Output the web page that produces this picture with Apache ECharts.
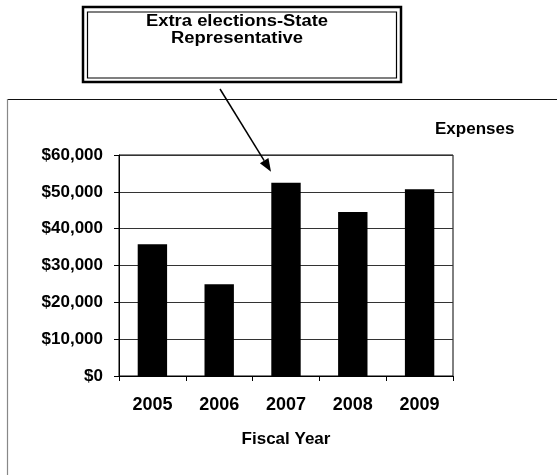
<!DOCTYPE html>
<html>
<head>
<meta charset="utf-8">
<style>
  html, body { margin: 0; padding: 0; background: #fff; }
  #chart { width: 557px; height: 475px; }
</style>
<script src="https://cdn.jsdelivr.net/npm/echarts@6/dist/echarts.min.js"></script>
</head>
<body>
<div id="chart"></div>
<script>
// Fiscal-year expenses
const years = ['2005', '2006', '2007', '2008', '2009'];
const expenses = [35800, 24900, 52500, 44500, 50700];
const yMin = 0, yMax = 60000, yStep = 10000;
const calloutLines = ['Extra elections-State', 'Representative'];
const calloutYear = '2007';

const FONT = '"Liberation Sans", Arial, sans-serif';
const WEIGHT = 'bold';

const chart = echarts.init(document.getElementById('chart'), null, { renderer: 'canvas' });

const option = {
  animation: false,
  backgroundColor: '#fff',
  title: {
    text: 'Expenses',
    left: 430, top: 116,
    textStyle: { fontFamily: FONT, fontSize: 17, fontWeight: WEIGHT, color: '#000' }
  },
  grid: {
    left: 119, top: 155, right: 104, bottom: 99,
    show: true, borderColor: '#000', borderWidth: 1, backgroundColor: 'transparent'
  },
  xAxis: {
    type: 'category',
    data: years,
    boundaryGap: true,
    name: 'Fiscal Year',
    nameLocation: 'middle',
    nameGap: 55,
    nameTextStyle: { fontFamily: FONT, fontSize: 17, fontWeight: WEIGHT, color: '#000' },
    axisLine: { lineStyle: { color: '#000', width: 1 } },
    axisTick: { show: true, inside: false, length: 5, alignWithLabel: false, lineStyle: { color: '#000' } },
    axisLabel: { fontFamily: FONT, fontSize: 18, fontWeight: WEIGHT, color: '#000', margin: 20 },
    splitLine: { show: false }
  },
  yAxis: {
    type: 'value',
    min: yMin, max: yMax, interval: yStep,
    axisLine: { show: true, lineStyle: { color: '#000', width: 1 } },
    axisTick: { show: true, inside: false, length: 5, lineStyle: { color: '#000' } },
    axisLabel: {
      fontFamily: FONT, fontSize: 17, fontWeight: WEIGHT, color: '#000', margin: 16,
      formatter: v => '$' + v.toLocaleString('en-US')
    },
    splitLine: { show: true, lineStyle: { color: '#333', width: 1 } }
  },
  series: [{
    name: 'Expenses',
    type: 'bar',
    data: expenses,
    barCategoryGap: '56%',
    itemStyle: { color: '#000' }
  }]
};

chart.setOption(option);

// Callout box with an arrow pointing at the highlighted year's bar
const calloutIdx = years.indexOf(calloutYear);
const barTop = chart.convertToPixel({ gridIndex: 0 }, [calloutIdx, expenses[calloutIdx]]);
const tip = [barTop[0] - 15, barTop[1] - 11];
const start = [220, 89];
const dx = tip[0] - start[0], dy = tip[1] - start[1];
const len = Math.sqrt(dx * dx + dy * dy);
const ux = dx / len, uy = dy / len;
const headLen = 13, headHalf = 5;
const base = [tip[0] - ux * headLen, tip[1] - uy * headLen];

chart.setOption({
  graphic: [
    // outer frame of the chart area
    { type: 'line', shape: { x1: 7, y1: 99.5, x2: 557, y2: 99.5 }, style: { stroke: '#111', lineWidth: 1 } },
    { type: 'line', shape: { x1: 7.5, y1: 99, x2: 7.5, y2: 475 }, style: { stroke: '#888', lineWidth: 1.2 } },
    // callout box (double border)
    { type: 'rect', shape: { x: 83, y: 7, width: 318, height: 75 }, style: { fill: '#fff', stroke: '#000', lineWidth: 2.5 } },
    { type: 'rect', shape: { x: 87.5, y: 12, width: 309, height: 66 }, style: { fill: 'none', stroke: '#000', lineWidth: 1.2 } },
    {
      type: 'text', x: 237, y: 22, scaleX: 1.15,
      style: { text: calloutLines[0], fontFamily: FONT, fontSize: 16, fontWeight: WEIGHT, fill: '#000', textAlign: 'center', textVerticalAlign: 'middle' }
    },
    {
      type: 'text', x: 237, y: 39, scaleX: 1.15,
      style: { text: calloutLines[1], fontFamily: FONT, fontSize: 16, fontWeight: WEIGHT, fill: '#000', textAlign: 'center', textVerticalAlign: 'middle' }
    },
    // arrow
    { type: 'line', shape: { x1: start[0], y1: start[1], x2: base[0], y2: base[1] }, style: { stroke: '#000', lineWidth: 1.5 } },
    {
      type: 'polygon',
      shape: { points: [tip, [base[0] - uy * headHalf, base[1] + ux * headHalf], [base[0] + uy * headHalf, base[1] - ux * headHalf]] },
      style: { fill: '#000' }
    }
  ]
});
</script>
</body>
</html>
